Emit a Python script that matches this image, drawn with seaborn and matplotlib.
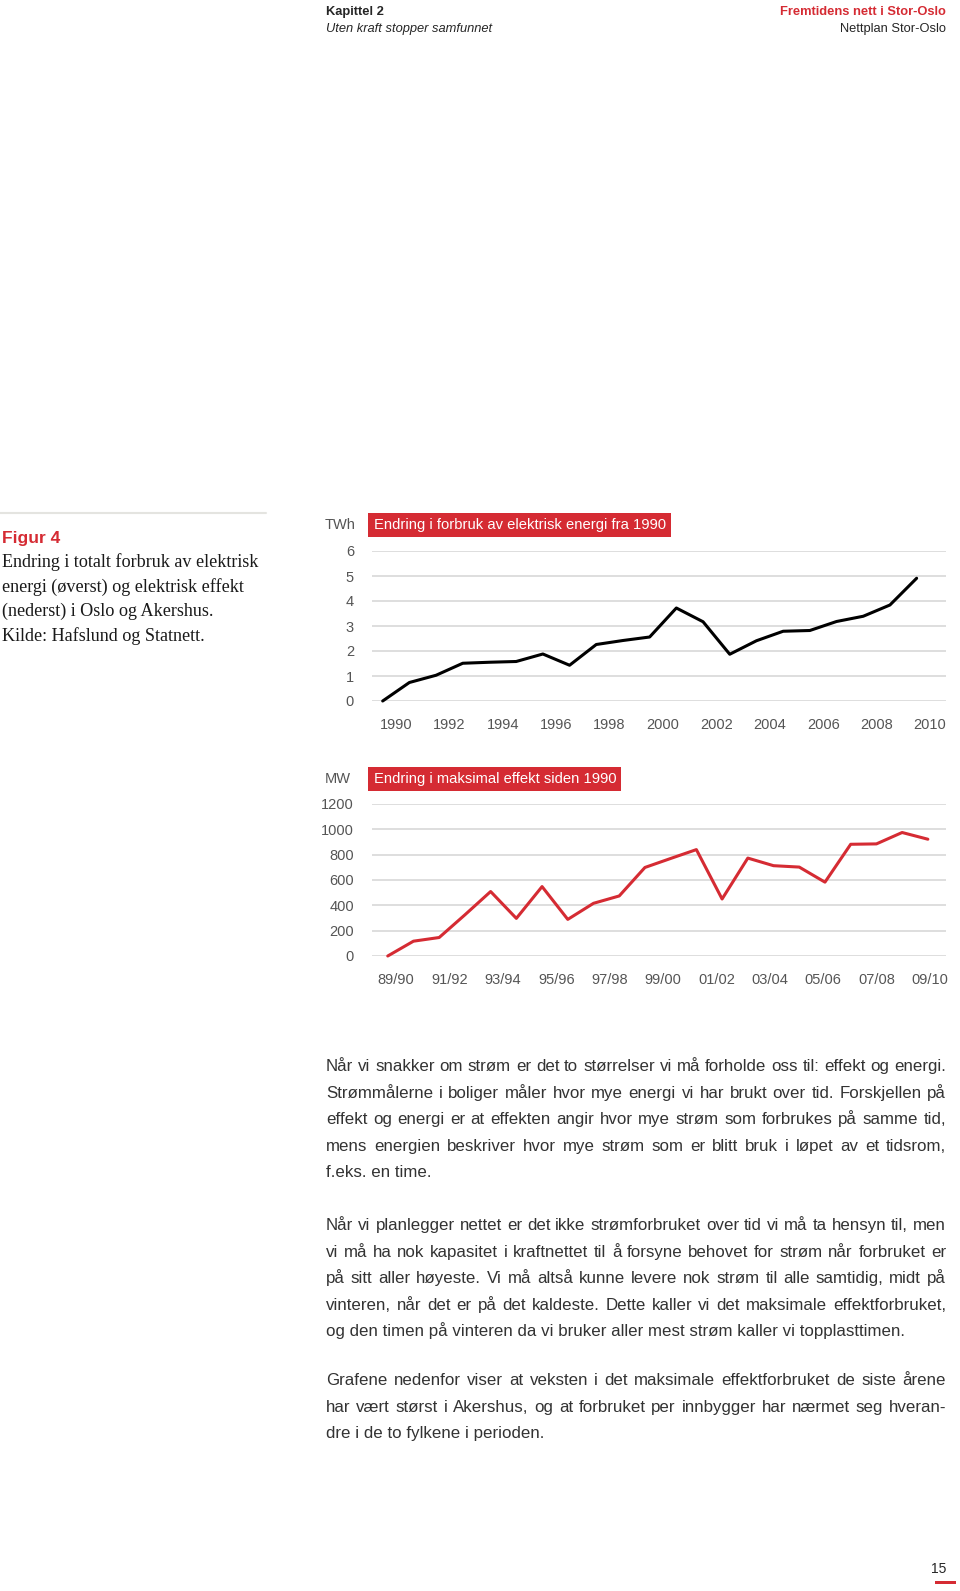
import numpy as np
import matplotlib
matplotlib.use("Agg")
import matplotlib.pyplot as plt
import seaborn as sns
from matplotlib.patches import Rectangle
from matplotlib.lines import Line2D

W, H = 960, 1591
RED = "#d52b33"
GRAY_TXT = "#555555"
GRID = "#d8d8d8"

# Figur 4, øverst: endring i energiforbruk (TWh)
years = list(range(1990, 2011))
energi_twh = [0, 0.74, 1.03, 1.51, 1.55, 1.58, 1.88, 1.43, 2.26, 2.42, 2.56,
              3.72, 3.17, 1.87, 2.41, 2.79, 2.82, 3.18, 3.39, 3.84, 4.91]
energi_yticks = [0, 1, 2, 3, 4, 5, 6]

# Figur 4, nederst: endring i maksimal effekt (MW)
sesonger = ["89/90", "90/91", "91/92", "92/93", "93/94", "94/95", "95/96",
            "96/97", "97/98", "98/99", "99/00", "00/01", "01/02", "02/03",
            "03/04", "04/05", "05/06", "06/07", "07/08", "08/09", "09/10"]
effekt_mw = [0, 117, 146, 325, 509, 297, 548, 289, 416, 474, 699, 770,
             840, 450, 773, 713, 702, 583, 882, 885, 975, 922]
effekt_yticks = [0, 200, 400, 600, 800, 1000, 1200]

avsnitt = [
    ["Når vi snakker om strøm er det to størrelser vi må forholde oss til: effekt og energi.",
     "Strømmålerne i boliger måler hvor mye energi vi har brukt over tid. Forskjellen på",
     "effekt og energi er at effekten angir hvor mye strøm som forbrukes på samme tid,",
     "mens energien beskriver hvor mye strøm som er blitt bruk i løpet av et tidsrom,",
     "f.eks. en time."],
    ["Når vi planlegger nettet er det ikke strømforbruket over tid vi må ta hensyn til, men",
     "vi må ha nok kapasitet i kraftnettet til å forsyne behovet for strøm når forbruket er",
     "på sitt aller høyeste. Vi må altså kunne levere nok strøm til alle samtidig, midt på",
     "vinteren, når det er på det kaldeste. Dette kaller vi det maksimale effektforbruket,",
     "og den timen på vinteren da vi bruker aller mest strøm kaller vi topplasttimen."],
    ["Grafene nedenfor viser at veksten i det maksimale effektforbruket de siste årene",
     "har vært størst i Akershus, og at forbruket per innbygger har nærmet seg hveran-",
     "dre i de to fylkene i perioden."],
]

sns.set_style("white")
plt.rcParams['font.family'] = ['Liberation Sans', 'DejaVu Sans']

fig = plt.figure(figsize=(W / 100, H / 100), dpi=100)


def fx(x):
    return x / W


def fy(y):
    return 1 - y / H


def style_axis(ax, yticks, xticks, xlabels, xlim):
    ax.set_ylim(yticks[0], yticks[-1])
    ax.set_yticks(yticks)
    ax.set_xlim(*xlim)
    ax.set_xticks(xticks)
    ax.set_xticklabels(xlabels)
    ax.set_xlabel("")
    ax.set_ylabel("")
    ax.set_facecolor("none")
    ax.set_axisbelow(True)
    ax.yaxis.grid(True, color=GRID, lw=1.2)
    ax.xaxis.grid(False)
    for s in ax.spines.values():
        s.set_visible(False)
    ax.tick_params(axis='y', length=0, pad=13, labelcolor=GRAY_TXT, labelsize=10.5)
    ax.tick_params(axis='x', direction='inout', length=7, width=1, color='#555555',
                   pad=9, labelcolor=GRAY_TXT, labelsize=10.5)


# top chart
ax1 = fig.add_axes([fx(372), fy(701), (946 - 372) / W, 150 / H])
sns.lineplot(x=np.array(years) - 0.5, y=energi_twh, ax=ax1, color='black', lw=2.2,
             clip_on=False, zorder=3)
style_axis(ax1, energi_yticks, years,
           [str(y) if y % 2 == 0 else "" for y in years], (1989.1, 2010.6))

# bottom chart
ax2 = fig.add_axes([fx(372), fy(956), (946 - 372) / W, 152 / H])
effekt_x = np.linspace(-0.31, 19.92, len(effekt_mw))
sns.lineplot(x=effekt_x, y=effekt_mw, ax=ax2, color=RED, lw=2.2, clip_on=False, zorder=3)
style_axis(ax2, effekt_yticks, list(range(len(sesonger))),
           [s if i % 2 == 0 else "" for i, s in enumerate(sesonger)], (-0.9, 20.6))

# chart titles
fig.text(fx(340), fy(525), "TWh", ha='center', va='center', color=GRAY_TXT, size=10.5)
fig.add_artist(Rectangle((fx(368), fy(537)), (671 - 368) / W, 24 / H,
                         transform=fig.transFigure, color=RED, lw=0))
fig.text(fx(374), fy(525), "Endring i forbruk av elektrisk energi fra 1990",
         ha='left', va='center', color='white', size=10.65)
fig.text(fx(338), fy(779), "MW", ha='center', va='center', color=GRAY_TXT, size=10.5)
fig.add_artist(Rectangle((fx(368), fy(791)), (621 - 368) / W, 24 / H,
                         transform=fig.transFigure, color=RED, lw=0))
fig.text(fx(374), fy(779), "Endring i maksimal effekt siden 1990",
         ha='left', va='center', color='white', size=10.65)

# header
fig.text(fx(326), fy(12), "Kapittel 2", weight='bold', size=9.3, va='center')
fig.text(fx(326), fy(29), "Uten kraft stopper samfunnet", style='italic', size=9.3, va='center')
fig.text(fx(946), fy(12), "Fremtidens nett i Stor-Oslo", weight='bold', size=9.3,
         color=RED, ha='right', va='center')
fig.text(fx(946), fy(29), "Nettplan Stor-Oslo", size=9.3, ha='right', va='center')

# caption
fig.add_artist(Line2D([0, fx(266)], [fy(513), fy(513)], color='#e4e4e0', lw=1.5,
                      transform=fig.transFigure))
fig.text(fx(2), fy(538), "Figur 4", color=RED, weight='bold', size=12.5, va='center')
caption = ["Endring i totalt forbruk av elektrisk",
           "energi (øverst) og elektrisk effekt",
           "(nederst) i Oslo og Akershus.",
           "Kilde: Hafslund og Statnett."]
for i, line in enumerate(caption):
    fig.text(fx(2), fy(562 + i * 24.7), line, family=['Liberation Serif', 'DejaVu Serif'],
             size=13.1, color='#1a1a1a', va='center')

# body text, justified (baseline aligned so words sit on one line)
renderer = fig.canvas.get_renderer()
BODY = 12.2


def draw_line(line, y, justify):
    base = fy(y + 5)
    if not justify:
        fig.text(fx(326), base, line, size=BODY, color='#333333', va='baseline')
        return
    words = line.split(" ")
    texts = [fig.text(0, base, w, size=BODY, color='#333333', va='baseline') for w in words]
    widths = [t.get_window_extent(renderer).width for t in texts]
    gap = (946 - 326 - sum(widths)) / (len(words) - 1)
    x = 326
    for t, w in zip(texts, widths):
        t.set_x(fx(x))
        x += w + gap


starts = [1066, 1225, 1380]
for start, para in zip(starts, avsnitt):
    for i, line in enumerate(para):
        draw_line(line, start + i * 26.6, i < len(para) - 1)

# page number
fig.text(fx(946), fy(1569), "15", size=10, ha='right', va='center')
fig.add_artist(Rectangle((fx(935), fy(1584)), 21 / W, 3 / H,
                         transform=fig.transFigure, color=RED, lw=0))

fig.savefig("out.png", dpi=100)
